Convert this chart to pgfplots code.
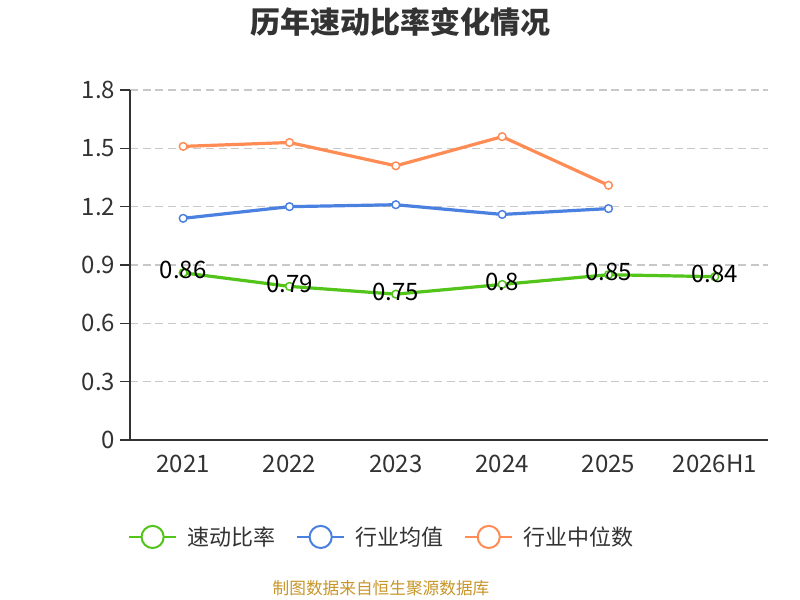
\documentclass[border=0pt]{standalone}
\usepackage{fontspec}
\setmainfont{Noto Sans CJK SC}
\usepackage{pgfplots}
\pgfplotsset{compat=1.18}
\definecolor{cgreen}{RGB}{82,196,26}
\definecolor{cblue}{RGB}{74,128,224}
\definecolor{corange}{RGB}{255,140,85}
\definecolor{ctext}{RGB}{51,51,51}
\definecolor{csrc}{RGB}{200,150,40}
\definecolor{cgrid}{RGB}{200,200,200}
\begin{document}
\begin{tikzpicture}
\useasboundingbox (0,0) rectangle (600pt,450pt);
\fill[white] (0,0) rectangle (600pt,450pt);
\node[font=\fontsize{22.5}{26}\selectfont\bfseries, text=ctext] at (300pt,433.5pt) {历年速动比率变化情况};
\node[font=\fontsize{12.5}{14}\selectfont, text=csrc] at (285.75pt,9pt) {制图数据来自恒生聚源数据库};
\begin{axis}[
  at={(97.5pt,120pt)}, anchor=south west,
  scale only axis, width=478.5pt, height=262.5pt,
  xmin=-0.5, xmax=5.5, ymin=0, ymax=1.8,
  axis x line=bottom, axis y line=left,
  axis line style={-, draw=ctext, line width=1pt},
  xtick={0,1,2,3,4,5},
  xticklabels={2021,2022,2023,2024,2025,2026H1},
  x tick style={draw=none},
  extra x ticks={-0.5,0.5,1.5,2.5,3.5,4.5,5.5},
  extra x tick labels={},
  extra x tick style={tick style={draw=ctext, line width=1pt}, major tick length=6pt, xmajorgrids=false},
  ytick={0,0.3,0.6,0.9,1.2,1.5,1.8},
  yticklabels={0,0.3,0.6,0.9,1.2,1.5,1.8},
  y tick style={draw=ctext, line width=1pt},
  major tick length=7.5pt, tick align=outside,
  ymajorgrids, grid style={cgrid, line width=1pt, dash pattern=on 6pt off 3.5pt},
  tick label style={font=\fontsize{18}{20}\selectfont, text=ctext},
  legend columns=3,
  legend style={at={(0.393,-0.277)}, anchor=center, draw=none, fill=none,
    font=\fontsize{16.5}{18}\selectfont, text=ctext,
    nodes={inner sep=0pt},
    /tikz/every odd column/.append style={column sep=7.5pt},
    /tikz/every even column/.append style={column sep=16pt}},
  legend image code/.code={
    \draw[#1, line width=1.3pt] (0pt,0pt) -- (35.25pt,0pt);
    \draw[#1, line width=1.5pt, fill=white] (17.6pt,0pt) circle (8.3pt);
  },
]
\addplot[color=cgreen, line width=2.4pt, mark=*, mark size=2.9pt,
  mark options={fill=white, line width=1.1pt}, line join=round,
  nodes near coords, point meta=explicit symbolic,
  every node near coord/.append style={font=\fontsize{18}{20}\selectfont, text=black, anchor=center, yshift=2pt}]
  coordinates {(0,0.86)[0.86] (1,0.79)[0.79] (2,0.75)[0.75] (3,0.80)[0.8] (4,0.85)[0.85] (5,0.84)[0.84]};
\addlegendentry{速动比率}
\addplot[color=cblue, line width=2.4pt, mark=*, mark size=2.9pt, line join=round,
  mark options={fill=white, line width=1.1pt}]
  coordinates {(0,1.14) (1,1.20) (2,1.21) (3,1.16) (4,1.19)};
\addlegendentry{行业均值}
\addplot[color=corange, line width=2.4pt, mark=*, mark size=2.9pt, line join=round,
  mark options={fill=white, line width=1.1pt}]
  coordinates {(0,1.51) (1,1.53) (2,1.41) (3,1.56) (4,1.31)};
\addlegendentry{行业中位数}
\end{axis}
\end{tikzpicture}
\end{document}
